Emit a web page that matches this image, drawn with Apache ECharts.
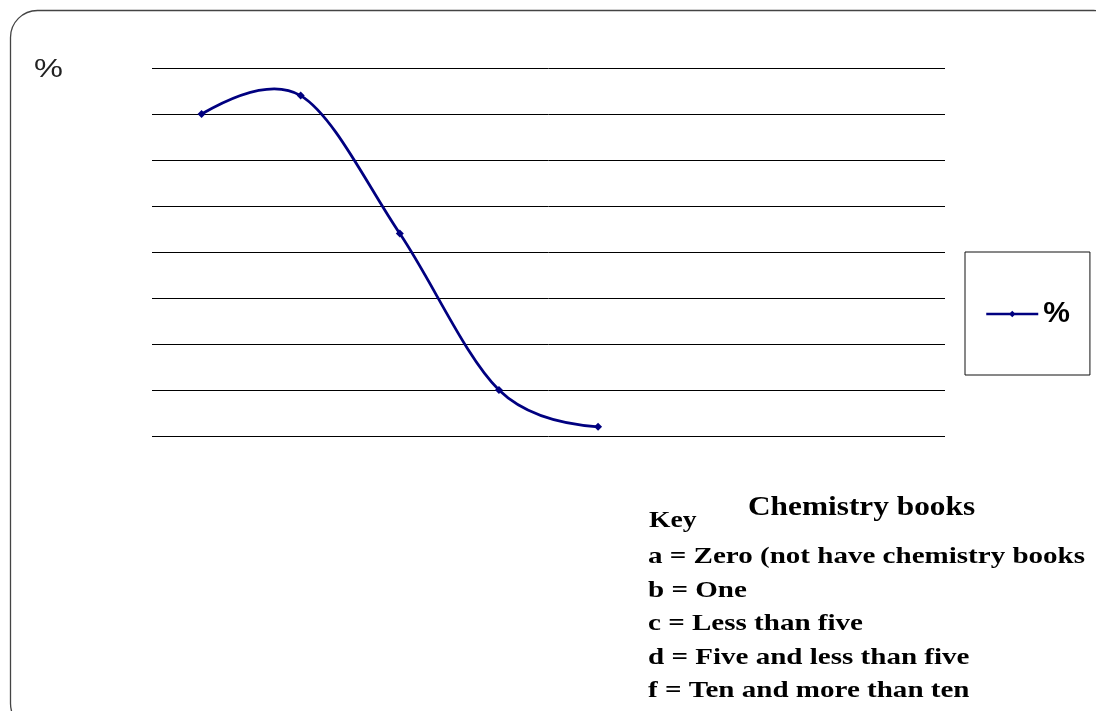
<!DOCTYPE html>
<html>
<head>
<meta charset="utf-8">
<title>Chemistry books</title>
<script src="https://cdn.jsdelivr.net/npm/echarts@6/dist/echarts.min.js"></script>
<style>
  html, body { margin: 0; padding: 0; background: #fff; }
  #chart { width: 1096px; height: 711px; }
</style>
</head>
<body>
<div id="chart"></div>
<script>
// Share of students by number of chemistry books owned
const categories = ['a', 'b', 'c', 'd', 'f'];
const percentValues = [35, 37, 22, 5, 1];
const seriesName = '%';
// the category axis keeps three blank slots after the last group
const blankSlots = ['', '', ''];
const keyLines = [
  'a = Zero (not have chemistry books',
  'b = One',
  'c = Less than five',
  'd = Five and less than five',
  'f = Ten and more than ten'
];

const LINE_COLOR = '#000080';
const SERIF = '"Liberation Serif", "Times New Roman", serif';
const SANS = '"Liberation Sans", Arial, sans-serif';

// Spreadsheet-style smoothed curve: cubic segments with Catmull-Rom
// tangents inside, quadratic segments at both ends.
function smoothPath(pts) {
  const n = pts.length;
  if (n < 2) return '';
  const f = (v) => v.toFixed(2);
  const tan = (i) => [(pts[i + 1][0] - pts[i - 1][0]) / 6, (pts[i + 1][1] - pts[i - 1][1]) / 6];
  let d = 'M' + f(pts[0][0]) + ' ' + f(pts[0][1]);
  if (n === 2) return d + ' L' + f(pts[1][0]) + ' ' + f(pts[1][1]);
  for (let i = 0; i < n - 1; i++) {
    const a = pts[i], b = pts[i + 1];
    if (i === 0) {
      const t = tan(1);
      d += ' Q' + f(b[0] - t[0]) + ' ' + f(b[1] - t[1]) + ' ' + f(b[0]) + ' ' + f(b[1]);
    } else if (i === n - 2) {
      const t = tan(i);
      d += ' Q' + f(a[0] + t[0]) + ' ' + f(a[1] + t[1]) + ' ' + f(b[0]) + ' ' + f(b[1]);
    } else {
      const t0 = tan(i), t1 = tan(i + 1);
      d += ' C' + f(a[0] + t0[0]) + ' ' + f(a[1] + t0[1]) + ' ' +
        f(b[0] - t1[0]) + ' ' + f(b[1] - t1[1]) + ' ' + f(b[0]) + ' ' + f(b[1]);
    }
  }
  return d;
}

const chart = echarts.init(document.getElementById('chart'));

const keyText = keyLines.map((line, i) => ({
  type: 'text',
  x: 648,
  y: 545 + i * 33.5,
  scaleX: 1.21,
  style: {
    text: line,
    font: 'bold 24px ' + SERIF,
    fill: '#000',
    verticalAlign: 'top'
  }
}));

chart.setOption({
  animation: false,
  backgroundColor: '#fff',
  grid: { left: 152, right: 151, top: 68, bottom: 275 },
  xAxis: {
    type: 'category',
    data: categories.concat(blankSlots),
    boundaryGap: true,
    axisLine: { show: false },
    axisTick: { show: false },
    axisLabel: { show: false },
    splitLine: { show: false }
  },
  yAxis: {
    type: 'value',
    min: 0,
    max: 40,
    interval: 5,
    axisLine: { show: false },
    axisTick: { show: false },
    axisLabel: { show: false },
    splitLine: { show: true, lineStyle: { color: '#000', width: 1 } }
  },
  legend: {
    orient: 'vertical',
    left: 965,
    top: 252,
    padding: [47, 20, 46, 20],
    borderColor: '#111',
    borderWidth: 1,
    itemWidth: 52,
    itemHeight: 8,
    itemGap: 0,
    lineStyle: { color: LINE_COLOR, width: 2.5, opacity: 1 },
    itemStyle: { color: LINE_COLOR },
    textStyle: {
      fontFamily: SANS,
      fontWeight: 'bold',
      fontSize: 30,
      color: '#000'
    },
    data: [seriesName]
  },
  series: [
    {
      // smoothed curve through the same values
      name: 'curve',
      type: 'custom',
      z: 2,
      data: percentValues.map((v, i) => [categories[i], v]),
      renderItem: function (params, api) {
        if (params.dataIndex !== 0) return null;
        const pts = percentValues.map((v, i) => api.coord([i, v]));
        return {
          type: 'path',
          shape: { pathData: smoothPath(pts) },
          style: { fill: 'none', stroke: LINE_COLOR, lineWidth: 2.75, lineJoin: 'round' }
        };
      }
    },
    {
      // markers and legend entry
      name: seriesName,
      type: 'line',
      z: 3,
      data: percentValues,
      symbol: 'diamond',
      symbolSize: 8,
      itemStyle: { color: LINE_COLOR },
      lineStyle: { color: LINE_COLOR, width: 2.5, opacity: 0 }
    }
  ],
  graphic: [
    {
      type: 'rect',
      shape: { x: 10.5, y: 10.5, width: 1110, height: 720, r: 27 },
      style: { fill: 'none', stroke: '#444', lineWidth: 1.3 },
      silent: true
    },
    {
      type: 'text',
      x: 34,
      y: 70,
      scaleX: 1.3,
      style: {
        text: '%',
        font: '25px ' + SANS,
        fill: '#222',
        verticalAlign: 'middle'
      }
    },
    {
      type: 'text',
      x: 748,
      y: 495,
      scaleX: 1.16,
      style: {
        text: 'Chemistry books',
        font: 'bold 27px ' + SERIF,
        fill: '#000',
        verticalAlign: 'top'
      }
    },
    {
      type: 'text',
      x: 649,
      y: 509,
      scaleX: 1.15,
      style: {
        text: 'Key',
        font: 'bold 24px ' + SERIF,
        fill: '#000',
        verticalAlign: 'top'
      }
    }
  ].concat(keyText)
});
</script>
</body>
</html>
